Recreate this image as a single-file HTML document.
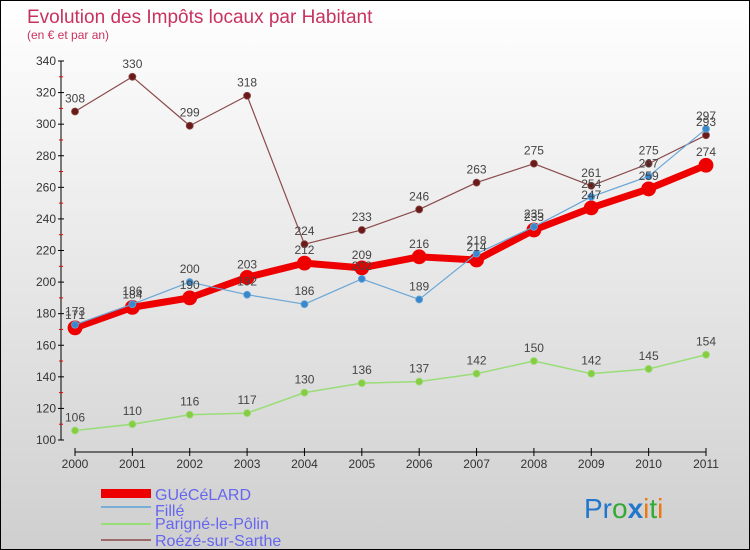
<!DOCTYPE html>
<html><head><meta charset="utf-8"><style>
body{margin:0;}
#wrap{position:relative;width:748px;height:548px;border:1px solid #000;background:linear-gradient(#ffffff,#cfcfcf);font-family:"Liberation Sans","DejaVu Sans",sans-serif;overflow:hidden}
</style></head><body>
<div id="wrap">
<svg id="chart" width="748" height="548" xmlns="http://www.w3.org/2000/svg">
<text x="26" y="22" font-size="19" fill="#c8325f">Evolution des Impôts locaux par Habitant</text>
<text x="26" y="38" font-size="12" fill="#c8325f">(en € et par an)</text>
<g id="axes"></g><g id="series"></g><g id="labels"></g>
<g>
<rect x="100" y="488" width="50" height="9" fill="#e00"/>
<text x="154" y="499" font-size="16" fill="#6666ee">GUéCéLARD</text>
<line x1="100" y1="506" x2="150" y2="506" stroke="#7aaed6" stroke-width="2"/>
<text x="154" y="515" font-size="16" fill="#6666ee">Fillé</text>
<line x1="100" y1="523" x2="150" y2="523" stroke="#99dd77" stroke-width="2"/>
<text x="154" y="528" font-size="16" fill="#6666ee">Parigné-le-Pôlin</text>
<line x1="100" y1="539" x2="150" y2="539" stroke="#9b6a6a" stroke-width="2"/>
<text x="154" y="545" font-size="16" fill="#6666ee">Roézé-sur-Sarthe</text>
</g>
<g font-size="28" font-family="'Liberation Sans',sans-serif">
<text x="583" y="517"><tspan fill="#2277cc">Pr</tspan><tspan fill="#33aa33">o</tspan><tspan fill="#2277cc" font-weight="bold">x</tspan><tspan fill="#ee7711">i</tspan><tspan fill="#33aa33">t</tspan><tspan fill="#ee7711">i</tspan></text>
</g>
</svg></div>
<script>
const years=["2000","2001","2002","2003","2004","2005","2006","2007","2008","2009","2010","2011"];
const guecelard=[171,184,190,203,212,209,216,214,233,247,259,274];
const fille=[173,186,200,192,186,202,189,218,235,254,267,297];
const parigne=[106,110,116,117,130,136,137,142,150,142,145,154];
const roeze=[308,330,299,318,224,233,246,263,275,261,275,293];
const yTicks=[100,120,140,160,180,200,220,240,260,280,300,320,340];
const NS="http://www.w3.org/2000/svg";
const X0=74,X1=705,Y0=439,Y1=60,VMIN=100,VMAX=340;
function xs(i){return X0+(X1-X0)*i/(years.length-1);}
function ys(v){return Y0-(Y0-Y1)*(v-VMIN)/(VMAX-VMIN);}
function mk(tag,attrs,parent){const e=document.createElementNS(NS,tag);for(const k in attrs)e.setAttribute(k,attrs[k]);parent.appendChild(e);return e;}
const axes=document.getElementById('axes'),ser=document.getElementById('series'),lab=document.getElementById('labels');
let yl=mk('line',{x1:60,y1:Y1,x2:60,y2:Y0},axes);
yl.setAttribute('stroke','#000');


yTicks.forEach((t,i)=>{
 const y=ys(t);
 const tk=mk('line',{x1:57,y1:y,x2:63,y2:y,stroke:'#000'},axes);
 
 
 if(i<yTicks.length-1){const m=mk('line',{x1:58,y1:ys(t+10),x2:62,y2:ys(t+10),stroke:'#e00'},axes);
 
 }
 const tx=mk('text',{x:55,y:y+4,'font-size':12,'text-anchor':'end',fill:'#333'},axes);
 tx.textContent=t;
 
 
});
let xl=mk('line',{x1:X0,y1:451,x2:X1,y2:451,stroke:'#000'},axes);


years.forEach((yr,i)=>{
 const x=xs(i);
 const tk=mk('line',{x1:x,y1:447,x2:x,y2:455,stroke:'#000'},axes);
 
 
 const tx=mk('text',{x:x,y:467,'font-size':12,'text-anchor':'middle',fill:'#333'},axes);
 tx.textContent=yr;
 
 
});
function draw(data,name,color,dot,lw,r){
 const pts=data.map((v,i)=>xs(i)+','+ys(v)).join(' ');
 const pl=mk('polyline',{points:pts,fill:'none',stroke:color,'stroke-width':lw,'stroke-linejoin':'round'},ser);
 
 
 data.forEach((v,i)=>{
  const c=mk('circle',{cx:xs(i),cy:ys(v),r:r,fill:dot,stroke:color,'stroke-width':0.8},ser);
  
  
  const t=mk('text',{x:xs(i),y:ys(v)-9,'font-size':12,'text-anchor':'middle',fill:'#444'},lab);
  t.textContent=v;
  
  
 });
}
draw(roeze,'roeze','#8b4a4a','#6b1a1a',1.2,3.5);
draw(parigne,'parigne','#99dd77','#88cc44',1.5,3.5);
draw(guecelard,'guecelard','#ee0000','#ee0000',7,7);
draw(fille,'fille','#6aa6d6','#3a88cc',1.2,3.5);
</script>
</body></html>
